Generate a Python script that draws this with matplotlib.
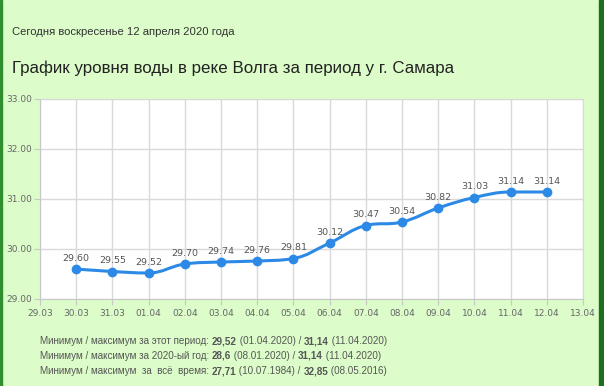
import numpy as np
import matplotlib.pyplot as plt
from matplotlib.path import Path
from matplotlib.patches import PathPatch, Rectangle

dates = ['30.03', '31.03', '01.04', '02.04', '03.04', '04.04', '05.04',
         '06.04', '07.04', '08.04', '09.04', '10.04', '11.04', '12.04']
levels = [29.60, 29.55, 29.52, 29.70, 29.74, 29.76, 29.81,
          30.12, 30.47, 30.54, 30.82, 31.03, 31.14, 31.14]
tick_labels = ['29.03'] + dates + ['13.04']
y_ticks = [29, 30, 31, 32, 33]

subtitle = 'Сегодня воскресенье 12 апреля 2020 года'
title = 'График уровня воды в реке Волга за период у г. Самара'
stats = [
    [('Минимум / максимум за этот период: ', False), ('29,52', True),
     (' (01.04.2020) / ', False), ('31,14', True), (' (11.04.2020)', False)],
    [('Минимум / максимум за 2020-ый год: ', False), ('28,6', True),
     (' (08.01.2020) / ', False), ('31,14', True), (' (11.04.2020)', False)],
    [('Минимум / максимум  за  всё  время: ', False), ('27,71', True),
     (' (10.07.1984) / ', False), ('32,85', True), (' (08.05.2016)', False)],
]

BG = '#dcfcc9'
LINE = '#2c8ae6'
plt.rcParams['font.family'] = ['Liberation Sans', 'DejaVu Sans']


def spline_path(x, y):
    # highcharts-like spline: central-difference tangents, handles 0.4*dx
    verts = [(x[0], y[0])]
    codes = [Path.MOVETO]
    n = len(x)
    left, right = [None] * n, [None] * n
    for i in range(n):
        if i == 0 or i == n - 1:
            left[i] = right[i] = (x[i], y[i])
            continue
        lx = (1.5 * x[i] + x[i - 1]) / 2.5
        ly = (1.5 * y[i] + y[i - 1]) / 2.5
        rx = (1.5 * x[i] + x[i + 1]) / 2.5
        ry = (1.5 * y[i] + y[i + 1]) / 2.5
        corr = ((ry - ly) * (rx - x[i])) / (rx - lx) + y[i] - ry
        ly += corr
        ry += corr
        if ly > max(y[i - 1], y[i]):
            ly = max(y[i - 1], y[i]); ry = 2 * y[i] - ly
        elif ly < min(y[i - 1], y[i]):
            ly = min(y[i - 1], y[i]); ry = 2 * y[i] - ly
        if ry > max(y[i], y[i + 1]):
            ry = max(y[i], y[i + 1]); ly = 2 * y[i] - ry
        elif ry < min(y[i], y[i + 1]):
            ry = min(y[i], y[i + 1]); ly = 2 * y[i] - ry
        left[i] = (lx, ly)
        right[i] = (rx, ry)
    for i in range(1, n):
        verts += [right[i - 1], left[i], (x[i], y[i])]
        codes += [Path.CURVE4] * 3
    return Path(verts, codes)


fig = plt.figure(figsize=(6.04, 3.86), dpi=100, facecolor=BG)
fig.patches.append(Rectangle((0, 0), 2 / 604, 1, transform=fig.transFigure,
                             color='#2f8f2f', zorder=0))
fig.patches.append(Rectangle((599 / 604, 0), 5 / 604, 1, transform=fig.transFigure,
                             color='#1e6e1e', zorder=0))

ax = fig.add_axes([40 / 604, 87 / 386, 543 / 604, 200 / 386])
ax.set_facecolor('white')

x = np.arange(len(dates))
ax.add_patch(PathPatch(spline_path(x, levels), facecolor='none',
                       edgecolor=LINE, lw=2.2, zorder=3))
ax.plot(x, levels, 'o', color=LINE, ms=6, zorder=4)
for xi, yi in zip(x, levels):
    ax.annotate(f'{yi:.2f}', (xi, yi), xytext=(0, 4.5), textcoords='offset points',
                ha='center', va='bottom', fontsize=6.8, color='#555555',
                family='DejaVu Sans')

ax.set_xlim(-1, len(dates))
ax.set_ylim(29, 33)
ax.set_xticks(np.arange(-1, len(dates) + 1))
ax.set_xticklabels(tick_labels)
ax.set_yticks(y_ticks)
ax.set_yticklabels([f'{v:.2f}' for v in y_ticks])
ax.grid(True, color='#d9d9d9', lw=1)
ax.set_axisbelow(True)
for side in ['top', 'right']:
    ax.spines[side].set_color('#d9d9d9')
for side in ['left', 'bottom']:
    ax.spines[side].set_color('#c8c8c8')
ax.tick_params(axis='x', colors='#c8c8c8', labelcolor='#666666', length=4,
               labelsize=6.5, pad=3)
ax.tick_params(axis='y', colors='#c8c8c8', labelcolor='#666666', length=4,
               labelsize=6.5, pad=2)
for lbl in ax.get_xticklabels() + ax.get_yticklabels():
    lbl.set_family('DejaVu Sans')

fig.text(12 / 604, 1 - 32 / 386, subtitle, fontsize=8.15, color='#333333', va='center')
fig.text(12 / 604, 1 - 68 / 386, title, fontsize=12.2, color='#222222', va='center')

fig.canvas.draw()
renderer = fig.canvas.get_renderer()


def text_width(s, weight):
    # measure with a sentinel so leading/trailing spaces count
    probe = fig.text(0, 0, '|' + s + '|', fontsize=7.1, fontweight=weight)
    bar = fig.text(0, 0, '||', fontsize=7.1, fontweight=weight)
    w = probe.get_window_extent(renderer).width - bar.get_window_extent(renderer).width
    probe.remove()
    bar.remove()
    return w


for row, line in enumerate(stats):
    xpos = 40
    ypos = 341 + row * 15
    for txt, bold in line:
        weight = 'bold' if bold else 'normal'
        fig.text(xpos / 604, 1 - ypos / 386, txt, fontsize=7.1, color='#555555',
                 fontweight=weight, va='center')
        xpos += text_width(txt, weight)

fig.savefig('out.png', dpi=100, facecolor=BG)
